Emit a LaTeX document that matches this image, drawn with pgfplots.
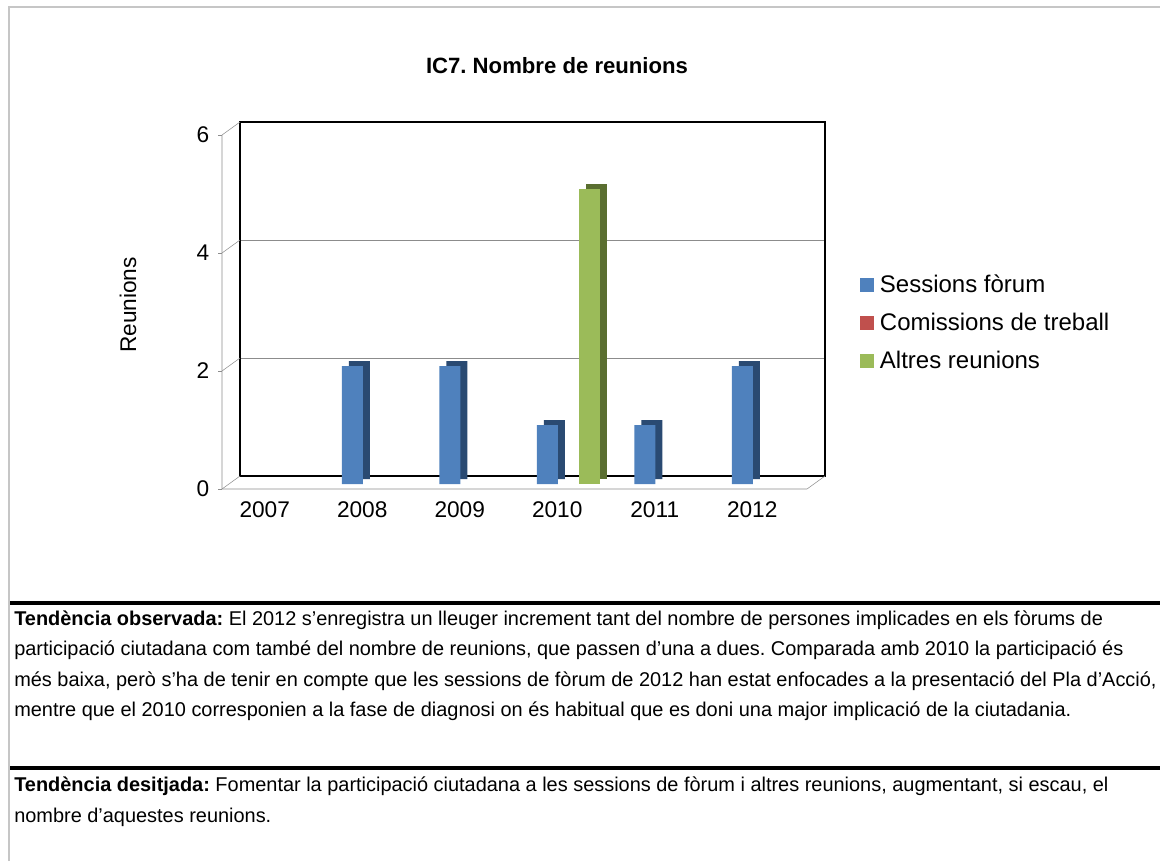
\documentclass[border=0pt]{standalone}
\usepackage{fontspec}
\setmainfont{Liberation Sans}
\usepackage{pgfplots}
\usepackage{pgfplotstable}
\pgfplotsset{compat=1.18}

\definecolor{sesblue}{HTML}{4F81BD}
\definecolor{sesside}{HTML}{2A4A72}
\definecolor{comred}{HTML}{C0504D}
\definecolor{altgreen}{HTML}{9BBB59}
\definecolor{altside}{HTML}{5A6E30}
\definecolor{wallgray}{HTML}{8C8C8C}

% 0..5 = 2007..2012
\pgfplotstableread{
x ses com alt
0 0 0 0
1 2 0 0
2 2 0 0
3 1 0 5
4 1 0 0
5 2 0 0
}\reunions

\newcommand{\chartfont}{\fontsize{17}{20}\selectfont}
\newcommand{\legfont}{\fontsize{18}{21}\selectfont}
\newcommand{\bodyfont}{\fontsize{14.95}{18}\selectfont}
\frenchspacing

\begin{document}
\begin{tikzpicture}
\useasboundingbox (0,0) rectangle (870pt,-645.75pt);
\draw[gray!45, line width=1.1pt] (6.75pt,-645.75pt) -- (6.75pt,-5.25pt) -- (870pt,-5.25pt);

\node[font=\fontsize{16.6}{20}\selectfont\bfseries] at (417.75pt,-49.5pt) {IC7. Nombre de reunions};
\node[rotate=90, font=\chartfont] at (96pt,-228.75pt) {Reunions};

\begin{axis}[
  at={(166.5pt,-366.75pt)}, anchor=south west,
  scale only axis, width=438.75pt, height=265.5pt,
  xmin=-0.5, xmax=5.5, ymin=0, ymax=6,
  ybar, bar width=15.75pt,
  xtick={0,...,5}, xticklabels={2007,2008,2009,2010,2011,2012},
  ytick={0,2,4,6}, yticklabels={0,2,4,6},
  axis line style={draw=none},
  xtick style={draw=none},
  ytick style={draw=wallgray, thin},
  ytick pos=left, tick align=outside, major tick length=3pt,
  tick label style={font=\chartfont},
  xticklabel style={yshift=-3pt, xshift=-4.5pt},
  yticklabel style={xshift=-3pt},
  clip=false,
  unbounded coords=discard,
  y filter/.expression={y==0 ? nan : y},
  legend style={at={(1.09,0.469)}, anchor=west, draw=none, fill=none,
    font=\legfont, row sep=10pt, inner sep=0pt,
    nodes={inner xsep=4.5pt}},
  legend cell align=left,
  legend image code/.code={\fill[#1, draw=none] (0pt,-5.25pt) rectangle (10.5pt,5.25pt);},
]
% back wall and floor
\draw[wallgray] ([shift={(13.5pt,9.75pt)}]axis cs:-0.5,2) -- ([shift={(13.5pt,9.75pt)}]axis cs:5.5,2);
\draw[wallgray] ([shift={(13.5pt,9.75pt)}]axis cs:-0.5,4) -- ([shift={(13.5pt,9.75pt)}]axis cs:5.5,4);
\draw[black, line width=1.1pt] ([shift={(13.5pt,9.75pt)}]rel axis cs:0,0) rectangle ([shift={(13.5pt,9.75pt)}]rel axis cs:1,1);
\draw[wallgray] (rel axis cs:0,1) -- (rel axis cs:0,0) -- (rel axis cs:1,0) -- ([shift={(13.5pt,9.75pt)}]rel axis cs:1,0);
\draw[wallgray] (axis cs:-0.5,0) -- ([shift={(13.5pt,9.75pt)}]axis cs:-0.5,0);
\draw[wallgray] (axis cs:-0.5,2) -- ([shift={(13.5pt,9.75pt)}]axis cs:-0.5,2);
\draw[wallgray] (axis cs:-0.5,4) -- ([shift={(13.5pt,9.75pt)}]axis cs:-0.5,4);
\draw[wallgray] (axis cs:-0.5,6) -- ([shift={(13.5pt,9.75pt)}]axis cs:-0.5,6);

% bars: dark side layer, then front face
\addplot[draw=none, fill=sesside, bar shift=-15.75pt, xshift=9pt, yshift=7.5pt, forget plot] table[x=x,y=ses]{\reunions};
\addplot[draw=none, fill=sesblue, bar shift=-15.75pt, xshift=3.75pt, yshift=3.75pt, forget plot] table[x=x,y=ses]{\reunions};
\addplot[draw=none, fill=comred, bar shift=0pt, xshift=3.75pt, yshift=3.75pt, forget plot] table[x=x,y=com]{\reunions};
\addplot[draw=none, fill=altside, bar shift=15.75pt, xshift=9pt, yshift=7.5pt, forget plot] table[x=x,y=alt]{\reunions};
\addplot[draw=none, fill=altgreen, bar shift=15.75pt, xshift=3.75pt, yshift=3.75pt, forget plot] table[x=x,y=alt]{\reunions};

\addlegendimage{fill=sesblue}
\addlegendentry{Sessions fòrum}
\addlegendimage{fill=comred}
\addlegendentry{Comissions de treball}
\addlegendimage{fill=altgreen}
\addlegendentry{Altres reunions}
\end{axis}

% text below the chart
\draw[black, line width=3pt] (7.5pt,-452.25pt) -- (870pt,-452.25pt);
\draw[black, line width=3pt] (7.5pt,-576pt) -- (870pt,-576pt);
\begin{scope}[every node/.style={anchor=west, inner sep=0pt, font=\bodyfont}]
\node at (10.5pt,-465.75pt) {\strut\textbf{Tendència observada:} El 2012 s'enregistra un lleuger increment tant del nombre de persones implicades en els fòrums de};
\node at (10.5pt,-488.25pt) {\strut participació ciutadana com també del nombre de reunions, que passen d'una a dues. Comparada amb 2010 la participació és};
\node at (10.5pt,-511.5pt) {\strut més baixa, però s'ha de tenir en compte que les sessions de fòrum de 2012 han estat enfocades a la presentació del Pla d'Acció,};
\node at (10.5pt,-534pt) {\strut mentre que el 2010 corresponien a la fase de diagnosi on és habitual que es doni una major implicació de la ciutadania.};
\node at (10.5pt,-590.25pt) {\strut\textbf{Tendència desitjada:} Fomentar la participació ciutadana a les sessions de fòrum i altres reunions, augmentant, si escau, el};
\node at (10.5pt,-613.5pt) {\strut nombre d'aquestes reunions.};
\end{scope}
\end{tikzpicture}
\end{document}
